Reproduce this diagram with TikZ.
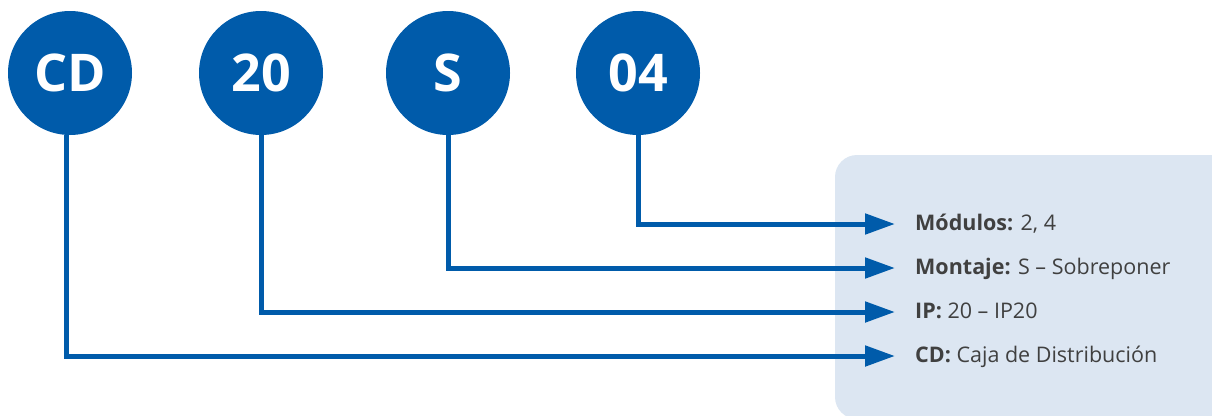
\documentclass[tikz,border=0pt]{standalone}
\usepackage{fontspec}
\setmainfont{Open Sans}
\usetikzlibrary{arrows.meta}
\definecolor{cblue}{HTML}{005BAA}
\definecolor{boxbg}{HTML}{DCE6F2}
\definecolor{txt}{HTML}{404040}
\begin{document}
\begin{tikzpicture}[x=1pt,y=-1pt,
  badge/.style={circle,fill=cblue,minimum size=124pt,inner sep=0pt,text=white,font=\fontsize{52}{52}\selectfont\bfseries},
  conn/.style={draw=cblue,line width=5pt,-{Triangle[length=30pt,width=20pt]}},
  label/.style={anchor=base west,inner sep=0pt,text=txt,font=\fontsize{21.5}{24}\selectfont}]
\useasboundingbox (0,0) rectangle (1212,415);
\fill[boxbg,rounded corners=22pt] (835,155) rectangle (1240,419);
\node[badge] (c1) at (70,73) {CD};
\node[badge] (c2) at (261,73) {20};
\node[badge] (c3) at (448,73) {S};
\node[badge] (c4) at (638,73) {04};
\node[label] (t1) at (915,230) {\textbf{Módulos:} 2, 4};
\node[label] (t2) at (915,274) {\textbf{Montaje:} S – Sobreponer};
\node[label] (t3) at (915,318) {\textbf{IP:} 20 – IP20};
\node[label] (t4) at (915,362) {\textbf{CD:} Caja de Distribución};
\coordinate (e1) at (895,224);
\coordinate (e2) at (895,268);
\coordinate (e3) at (895,312);
\coordinate (e4) at (895,356);
\draw[conn] ([xshift=-4pt]c1.south) |- (e4);
\draw[conn] (c2.south) |- (e3);
\draw[conn] (c3.south) |- (e2);
\draw[conn] (c4.south) |- (e1);
\end{tikzpicture}
\end{document}
